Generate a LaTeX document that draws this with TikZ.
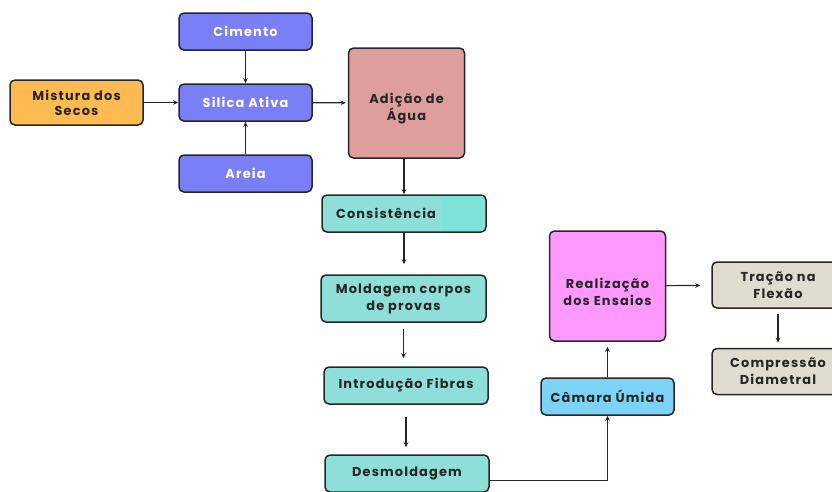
\documentclass[tikz,border=0pt]{standalone}
\usepackage{fontspec}
\setmainfont{Poppins}[LetterSpace=9]
\usetikzlibrary{arrows.meta}

\definecolor{azul}{HTML}{7B7FF5}
\definecolor{laranja}{HTML}{FFBA52}
\definecolor{rosa}{HTML}{DE9E9E}
\definecolor{turquesa}{HTML}{8EDFD8}
\definecolor{turquesaviva}{HTML}{7DE3D9}
\definecolor{celeste}{HTML}{7DD3F5}
\definecolor{magenta}{HTML}{FF99FF}
\definecolor{areiacor}{HTML}{E0DDD0}
\definecolor{contorno}{HTML}{262626}

\begin{document}
\begin{tikzpicture}[x=1pt,y=-1pt,
    etapa/.style={draw=contorno, line width=1.5pt, rounded corners=5pt, align=center,
      inner sep=0pt, text=contorno, font=\bfseries\fontsize{12.9}{17}\selectfont},
    texto/.style={etapa, draw=none, fill=none},
    insumo/.style={etapa, fill=azul, text=white, minimum width=133pt, minimum height=37pt},
    ensaio/.style={etapa, fill=areiacor, minimum width=132pt, minimum height=46pt},
    seta/.style={-{Stealth[length=5pt,width=4.5pt]}, line width=1.2pt, draw=contorno}]
    \useasboundingbox (0,0) rectangle (832,491);

    % materiais
    \node[insumo] (cimento) at (245.5,31.5) {Cimento};
    \node[insumo] (silica) at (245.5,102.5) {Silica Ativa};
    \node[insumo] (areia) at (245.5,173.5) {Areia};
    \node[etapa, fill=laranja, minimum width=133pt, minimum height=45pt,
      font=\bfseries\fontsize{12.9}{15}\selectfont] (mistura) at (76.5,102.5) {Mistura dos\\Secos};
    \node[etapa, fill=rosa, minimum width=116pt, minimum height=110pt] (adicao) at (406.5,103) {};
    \node[texto] (adicao-txt) at (406.5,108.5) {Adição de\\Água};

    % preparo
    \node[etapa, fill=turquesa, minimum width=164pt, minimum height=37pt] (consistencia) at (404,213.5) {};
    \fill[turquesaviva] (441,196) rectangle (483,231);
    \node[texto] (consistencia-txt) at (386,213.5) {Consistência};
    \node[etapa, fill=turquesa, minimum width=165pt, minimum height=47pt] (moldagem) at (403.5,298.5) {Moldagem corpos\\de provas};
    \node[etapa, fill=turquesa, minimum width=164pt, minimum height=37pt] (fibras) at (406,385.5) {Introdução Fibras};
    \node[etapa, fill=turquesa, minimum width=164pt, minimum height=37pt] (desmoldagem) at (407,473.5) {Desmoldagem};

    % cura e ensaios
    \node[etapa, fill=celeste, minimum width=133pt, minimum height=37pt] (camara) at (607.5,396.5) {Câmara Úmida};
    \node[etapa, fill=magenta, minimum width=116pt, minimum height=110pt] (ensaios) at (607.5,286) {};
    \node[texto] (ensaios-txt) at (607.5,291.5) {Realização\\dos Ensaios};
    \node[ensaio] (tracao) at (778,285) {Tração na\\Flexão};
    \node[ensaio] (compressao) at (778,371.5) {Compressão\\Diametral};

    \draw[seta] (cimento) -- (silica);
    \draw[seta] (areia) -- (silica);
    \draw[seta] (mistura) -- (silica);
    \draw[seta, shorten >=2pt] (silica) -- (adicao);
    \draw[seta] (consistencia.north |- adicao.south) -- (consistencia.north);
    \draw[seta, shorten >=10pt] (consistencia.south) -- (consistencia.south |- moldagem.north);
    \draw[seta, shorten <=6pt, shorten >=8pt] (moldagem.south) -- (moldagem.south |- fibras.north);
    \draw[seta, shorten <=12pt, shorten >=7pt] (fibras.south) -- (fibras.south |- desmoldagem.north);
    \draw[seta] ([yshift=-7pt]desmoldagem.east) -| (camara.south);
    \draw[seta, shorten >=5pt] (camara) -- (ensaios);
    \draw[seta, shorten >=11pt] (ensaios) -- (tracao);
    \draw[seta, shorten <=5pt, shorten >=5pt] (tracao) -- (compressao);
\end{tikzpicture}
\end{document}
